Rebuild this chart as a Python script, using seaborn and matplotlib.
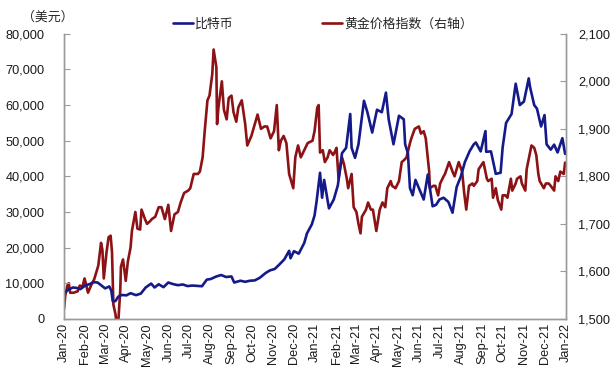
import pandas as pd
import matplotlib
matplotlib.use("Agg")
import matplotlib.pyplot as plt
import matplotlib.dates as mdates
import matplotlib.ticker as mticker
import seaborn as sns

# 比特币 (USD, left axis)
btc_dates = [
    "2020-01-01", "2020-01-07", "2020-01-14", "2020-01-19", "2020-01-25", "2020-02-01", "2020-02-08",
    "2020-02-13", "2020-02-19", "2020-02-25", "2020-03-01", "2020-03-07", "2020-03-10", "2020-03-12",
    "2020-03-16", "2020-03-20", "2020-03-25", "2020-04-01", "2020-04-07", "2020-04-15", "2020-04-22",
    "2020-04-29", "2020-05-07", "2020-05-12", "2020-05-18", "2020-05-25", "2020-06-01", "2020-06-08",
    "2020-06-15", "2020-06-22", "2020-06-29", "2020-07-06", "2020-07-13", "2020-07-20", "2020-07-27",
    "2020-08-02", "2020-08-10", "2020-08-17", "2020-08-24", "2020-09-01", "2020-09-05", "2020-09-14",
    "2020-09-21", "2020-09-28", "2020-10-05", "2020-10-12", "2020-10-21", "2020-10-27", "2020-11-03",
    "2020-11-10", "2020-11-17", "2020-11-24", "2020-11-26", "2020-12-01", "2020-12-08", "2020-12-16",
    "2020-12-20", "2020-12-27", "2020-12-31",
    "2021-01-03", "2021-01-08", "2021-01-11", "2021-01-14", "2021-01-21", "2021-01-28", "2021-02-03",
    "2021-02-09", "2021-02-15", "2021-02-21", "2021-02-23", "2021-02-28", "2021-03-05", "2021-03-13",
    "2021-03-18", "2021-03-25", "2021-04-01", "2021-04-08", "2021-04-14", "2021-04-18", "2021-04-25",
    "2021-05-03", "2021-05-10", "2021-05-12", "2021-05-16", "2021-05-19", "2021-05-23", "2021-05-27",
    "2021-06-01", "2021-06-08", "2021-06-14", "2021-06-21", "2021-06-26", "2021-07-01", "2021-07-07",
    "2021-07-14", "2021-07-20", "2021-07-26", "2021-08-01", "2021-08-07", "2021-08-14", "2021-08-20",
    "2021-08-23", "2021-08-30", "2021-09-06", "2021-09-07", "2021-09-14", "2021-09-21", "2021-09-28",
    "2021-10-01", "2021-10-06", "2021-10-14", "2021-10-20", "2021-10-26", "2021-11-01", "2021-11-08",
    "2021-11-10", "2021-11-16", "2021-11-20", "2021-11-26", "2021-12-01", "2021-12-04", "2021-12-10",
    "2021-12-15", "2021-12-20", "2021-12-27", "2021-12-31",
]
btc_values = [
    7200, 8150, 8800, 8700, 8350, 9350, 9800,
    10300, 10200, 9300, 8550, 9100, 7900, 4970,
    5000, 6200, 6700, 6600, 7200, 6650, 7100,
    8800, 9900, 8800, 9700, 8900, 10200, 9750,
    9450, 9650, 9200, 9350, 9250, 9150, 11000,
    11200, 11900, 12300, 11750, 11900, 10200, 10700,
    10400, 10700, 10800, 11500, 12900, 13600, 14000,
    15300, 16700, 19100, 17000, 19000, 18300, 21300,
    24000, 26500, 29000,
    33000, 41000, 34000, 39000, 31000, 33500, 37500,
    46500, 48000, 57500, 48000, 45200, 49000, 61200,
    58000, 52300, 58700, 58000, 63500, 56000, 49000,
    57000, 56000, 49000, 46500, 36700, 34700, 39000,
    36700, 33500, 40500, 31600, 32000, 33500, 34000,
    32800, 29800, 37000, 39900, 44000, 47100, 49000,
    49500, 47000, 52700, 46900, 47000, 40700, 41000,
    48100, 55000, 57500, 66000, 60000, 61000, 67500,
    65000, 60000, 59000, 54000, 57200, 49000, 47500,
    48900, 46700, 50700, 46300,
]

# 黄金价格指数 (right axis)
gold_dates = [
    "2020-01-01", "2020-01-03", "2020-01-06", "2020-01-08", "2020-01-10", "2020-01-15", "2020-01-21",
    "2020-01-24", "2020-01-28", "2020-01-31", "2020-02-05", "2020-02-10", "2020-02-14", "2020-02-20",
    "2020-02-24", "2020-02-26", "2020-02-28", "2020-03-03", "2020-03-06", "2020-03-09", "2020-03-11",
    "2020-03-13", "2020-03-16", "2020-03-19", "2020-03-20", "2020-03-23", "2020-03-24", "2020-03-27",
    "2020-03-31", "2020-04-03", "2020-04-07", "2020-04-09", "2020-04-14", "2020-04-17", "2020-04-21",
    "2020-04-23", "2020-04-28", "2020-05-01", "2020-05-05", "2020-05-08", "2020-05-13", "2020-05-18",
    "2020-05-22", "2020-05-27", "2020-06-01", "2020-06-05", "2020-06-10", "2020-06-15", "2020-06-19",
    "2020-06-24", "2020-06-30", "2020-07-03", "2020-07-08", "2020-07-14", "2020-07-17", "2020-07-21",
    "2020-07-24", "2020-07-28", "2020-07-31", "2020-08-04", "2020-08-06", "2020-08-10", "2020-08-11",
    "2020-08-13", "2020-08-18", "2020-08-21", "2020-08-25", "2020-08-28", "2020-09-01", "2020-09-04",
    "2020-09-08", "2020-09-11", "2020-09-16", "2020-09-21", "2020-09-24", "2020-09-30", "2020-10-05",
    "2020-10-09", "2020-10-14", "2020-10-19", "2020-10-23", "2020-10-28", "2020-11-02", "2020-11-06",
    "2020-11-09", "2020-11-12", "2020-11-16", "2020-11-20", "2020-11-24", "2020-11-30", "2020-12-03",
    "2020-12-07", "2020-12-11", "2020-12-16", "2020-12-21", "2020-12-28", "2020-12-31",
    "2021-01-04", "2021-01-06", "2021-01-08", "2021-01-12", "2021-01-15", "2021-01-19", "2021-01-22",
    "2021-01-27", "2021-01-29", "2021-02-01", "2021-02-04", "2021-02-09", "2021-02-12", "2021-02-16",
    "2021-02-18", "2021-02-23", "2021-02-26", "2021-03-02", "2021-03-05", "2021-03-08", "2021-03-10",
    "2021-03-12", "2021-03-16", "2021-03-19", "2021-03-23", "2021-03-26", "2021-03-31", "2021-04-05",
    "2021-04-09", "2021-04-13", "2021-04-16", "2021-04-21", "2021-04-23", "2021-04-28", "2021-05-03",
    "2021-05-07", "2021-05-11", "2021-05-14", "2021-05-19", "2021-05-21", "2021-05-26", "2021-06-01",
    "2021-06-04", "2021-06-08", "2021-06-11", "2021-06-16", "2021-06-17", "2021-06-22", "2021-06-25",
    "2021-06-29", "2021-07-02", "2021-07-07", "2021-07-09", "2021-07-15", "2021-07-20", "2021-07-23",
    "2021-07-29", "2021-08-03", "2021-08-06", "2021-08-09", "2021-08-13", "2021-08-18", "2021-08-20",
    "2021-08-25", "2021-08-27", "2021-09-03", "2021-09-08", "2021-09-10", "2021-09-15", "2021-09-17",
    "2021-09-21", "2021-09-24", "2021-09-29", "2021-10-01", "2021-10-05", "2021-10-08", "2021-10-13",
    "2021-10-15", "2021-10-20", "2021-10-22", "2021-10-27", "2021-10-29", "2021-11-03", "2021-11-05",
    "2021-11-10", "2021-11-12", "2021-11-16", "2021-11-19", "2021-11-22", "2021-11-24", "2021-11-30",
    "2021-12-03", "2021-12-07", "2021-12-10", "2021-12-15", "2021-12-17", "2021-12-21", "2021-12-24",
    "2021-12-29", "2021-12-31",
]
gold_values = [
    1520, 1550, 1570, 1575, 1555, 1555, 1558,
    1570, 1568, 1585, 1555, 1572, 1583, 1612,
    1660, 1645, 1585, 1640, 1672, 1675, 1640,
    1530, 1510, 1475, 1490, 1560, 1610, 1625,
    1580, 1620, 1650, 1685, 1725, 1690, 1688,
    1730, 1710, 1700, 1705, 1710, 1715, 1735,
    1735, 1710, 1740, 1685, 1720, 1725, 1745,
    1765, 1770, 1775, 1805, 1805, 1810, 1840,
    1895, 1960, 1970, 2015, 2067, 2030, 1910,
    1945, 2000, 1940, 1920, 1965, 1970, 1935,
    1915, 1945, 1960, 1910, 1865, 1885, 1910,
    1930, 1900, 1905, 1905, 1880, 1895, 1950,
    1855, 1875, 1885, 1870, 1805, 1775, 1840,
    1865, 1840, 1855, 1870, 1875, 1895,
    1945, 1950, 1850, 1855, 1830, 1840, 1855,
    1845, 1850, 1860, 1795, 1840, 1825, 1795,
    1775, 1805, 1735, 1725, 1700, 1680, 1715,
    1720, 1730, 1745, 1730, 1730, 1685, 1730,
    1745, 1735, 1775, 1790, 1780, 1775, 1790,
    1830, 1835, 1840, 1870, 1880, 1900, 1905,
    1890, 1895, 1880, 1810, 1775, 1780, 1780,
    1760, 1785, 1800, 1805, 1830, 1810, 1800,
    1830, 1810, 1765, 1730, 1780, 1785, 1780,
    1790, 1815, 1830, 1795, 1790, 1795, 1755,
    1775, 1750, 1730, 1760, 1760, 1755, 1795,
    1770, 1785, 1795, 1800, 1785, 1770, 1815,
    1850, 1865, 1860, 1845, 1805, 1790, 1775,
    1785, 1785, 1780, 1770, 1800, 1790, 1810,
    1805, 1829,
]

btc = pd.DataFrame({"date": pd.to_datetime(btc_dates), "value": btc_values})
gold = pd.DataFrame({"date": pd.to_datetime(gold_dates), "value": gold_values})

sns.set_style("white")
plt.rcParams["font.family"] = ["Liberation Sans", "Noto Sans CJK SC", "DejaVu Sans"]

blue = "#141a8a"
red = "#8c1216"
spine = "#9a9a9a"

fig = plt.figure(figsize=(6.15, 3.76), dpi=100)
ax = fig.add_axes([0.104, 0.152, 0.816, 0.758])
ax2 = ax.twinx()

sns.lineplot(data=btc, x="date", y="value", ax=ax, color=blue, linewidth=1.9, legend=False)
sns.lineplot(data=gold, x="date", y="value", ax=ax2, color=red, linewidth=1.9, legend=False)

ax.set_xlim(pd.Timestamp("2020-01-01"), pd.Timestamp("2022-01-01"))
ax.set_ylim(0, 80000)
ax2.set_ylim(1500, 2100)
ax.yaxis.set_major_locator(mticker.MultipleLocator(10000))
ax2.yaxis.set_major_locator(mticker.MultipleLocator(100))
ax.yaxis.set_major_formatter(mticker.StrMethodFormatter("{x:,.0f}"))
ax2.yaxis.set_major_formatter(mticker.StrMethodFormatter("{x:,.0f}"))
ax.xaxis.set_major_locator(mdates.MonthLocator())
ax.xaxis.set_major_formatter(mdates.DateFormatter("%b-%y"))
ax.set_xlabel("")
ax.set_ylabel("")
ax2.set_ylabel("")

for a in (ax, ax2):
    a.grid(False)
    a.spines["top"].set_visible(False)
    for s in ("left", "right", "bottom"):
        a.spines[s].set_color(spine)
        a.spines[s].set_linewidth(1.0)
    a.tick_params(direction="in", length=4, width=0.8, color=spine, labelsize=9.2, labelcolor="#1a1a1a")
ax.tick_params(axis="x", rotation=90, pad=3)
ax.tick_params(axis="y", left=True, pad=14)
ax2.tick_params(axis="y", right=True, pad=9)
ax.patch.set_visible(False)
ax2.set_zorder(ax.zorder - 1)
ax.set_zorder(2)

handles = ax.get_lines()[:1] + ax2.get_lines()[:1]
fig.legend(handles, ["比特币", "黄金价格指数（右轴）"], loc="center", bbox_to_anchor=(0.525, 0.934),
           ncol=2, frameon=False, fontsize=9.3, handlelength=1.6, handletextpad=0.15, columnspacing=6.8)
fig.text(0.036, 0.953, "（美元）", fontsize=9.3, va="center", ha="left")

fig.savefig("out.png", dpi=100)
